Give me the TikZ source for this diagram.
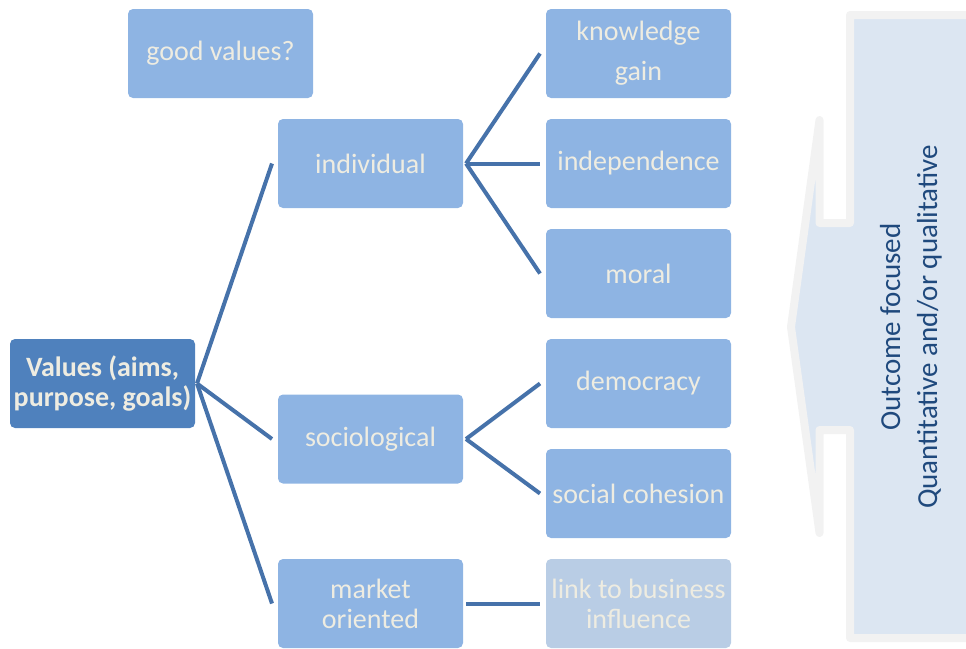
\documentclass[tikz,border=0pt]{standalone}
\usepackage{fontspec}
\setmainfont{Carlito}
\usetikzlibrary{positioning}
\definecolor{BoxBlue}{HTML}{8EB4E3}
\definecolor{RootBlue}{HTML}{4F81BD}
\definecolor{PaleBlue}{HTML}{B9CDE5}
\definecolor{LinkBlue}{HTML}{4672AA}
\definecolor{Cream}{HTML}{EEECE1}
\definecolor{ArrowFill}{HTML}{DCE6F2}
\definecolor{ArrowEdge}{HTML}{F2F2F2}
\definecolor{DarkText}{HTML}{1F497D}

\begin{document}
\begin{tikzpicture}[x=1pt,y=-1pt,
    box/.style={fill=BoxBlue,rounded corners=5pt,minimum width=185pt,minimum height=89pt,
                inner sep=0pt,outer sep=0pt,align=center,text=Cream,font=\fontsize{28}{30}\selectfont},
    rootbox/.style={box,fill=RootBlue,font=\fontsize{28}{30}\selectfont\bfseries},
    palebox/.style={box,fill=PaleBlue},
    link/.style={LinkBlue,line width=4pt}]
    \useasboundingbox (0,0) rectangle (966,648);

    % big arrow on the right
    \draw[ArrowEdge,fill=ArrowFill,line width=8pt,line join=round]
        (850,15) -- (972,15) -- (972,638) -- (850,638) -- (850,430) -- (819.5,430)
        -- (819.5,533) -- (791,327) -- (819.5,120) -- (819.5,223) -- (850,223) -- cycle;
    \node[rotate=90,align=center,text=DarkText,font=\fontsize{29}{37}\selectfont] (outcome) at (911,327)
        {Outcome focused\\Quantitative and/or qualitative};

    \node[box] (good) at (220.5,53.5) {good values?};
    \node[rootbox] (vals) at (102.5,383.5) {Values (aims,\\purpose, goals)};

    \node[box] (ind) at (370.5,163.5) {individual};
    \node[box] (soc) at (370.5,439) {sociological};
    \node[box] (mkt) at (370.5,603.5) {market\\oriented};

    \node[box] (know) at (638.5,53.5) {\raisebox{-2pt}{knowledge}\\[12pt]gain};
    \node[box,below=21pt of know] (indep) {independence};
    \node[box,below=21pt of indep] (moral) {moral};
    \node[box,below=21pt of moral] (demo) {democracy};
    \node[box,below=21pt of demo] (cohes) {social cohesion};
    \node[palebox,below=21pt of cohes] (biz) {link to business\\influence};

    \coordinate (vtip) at ([xshift=2pt]vals.east);
    \coordinate (itip) at ([xshift=3pt]ind.east);
    \coordinate (stip) at ([xshift=3pt]soc.east);
    \coordinate (mtip) at ([xshift=3pt]mkt.east);

    \foreach \c in {ind,soc,mkt}
        \draw[link] (vtip) -- ([xshift=-6pt]\c.west);
    \foreach \c in {know,indep,moral}
        \draw[link] (itip) -- ([xshift=-6pt]\c.west);
    \foreach \c in {demo,cohes}
        \draw[link] (stip) -- ([xshift=-6pt]\c.west);
    \draw[link] (mtip) -- ([xshift=-6pt]biz.west);
\end{tikzpicture}
\end{document}
